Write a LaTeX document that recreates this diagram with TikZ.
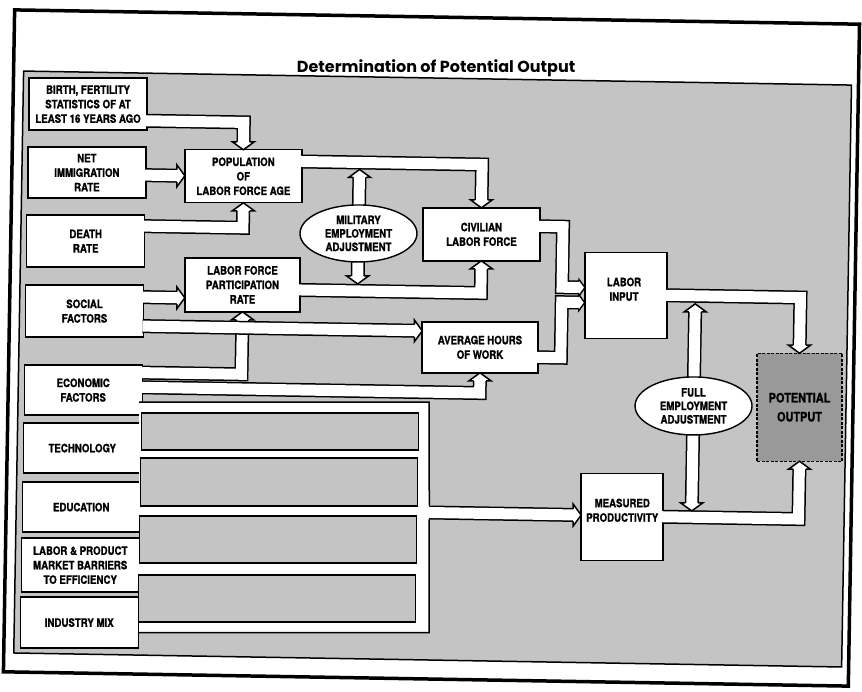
\documentclass[tikz,border=0pt]{standalone}
\usepackage{fontspec}
\newfontfamily\boxfont{TeX Gyre Heros}[FakeStretch=0.84, FakeBold=1.2]
\newfontfamily\titlefont{Poppins}
\usetikzlibrary{shapes.geometric}
\pgfdeclarelayer{bg}
\pgfdeclarelayer{pout}
\pgfdeclarelayer{boxes}
\pgfdeclarelayer{pin}
\pgfdeclarelayer{isl}
\pgfdeclarelayer{xout}
\pgfdeclarelayer{xin}
\pgfdeclarelayer{heads}
\pgfsetlayers{bg,pout,boxes,pin,isl,xout,xin,heads,main}
\tikzset{
  box/.style={draw, line width=1.4pt, fill=white, align=center, inner sep=0pt, outer sep=0pt,
    font=\boxfont\bfseries\fontsize{11.5}{14.5}\selectfont},
  txt/.style={align=center, inner sep=0pt, font=\boxfont\bfseries\fontsize{11.5}{14.5}\selectfont},
  ell/.style={ellipse, draw, line width=1.4pt, fill=white, align=center, inner sep=0pt, outer sep=0pt,
    font=\boxfont\bfseries\fontsize{11.5}{13.5}\selectfont},
  pipeo/.style={line width=14pt, draw=black, line join=miter, line cap=butt},
  pipei/.style={line width=11pt, draw=white, line join=miter, line cap=butt},
  wall/.style={line width=1.5pt, line join=miter, line cap=butt},
  isle/.style={draw, line width=1.4pt, fill=black!23, inner sep=0pt, outer sep=0pt},
  ahead/.pic={
    \fill[white] (0,0) -- (-8,11) -- (-8,-11) -- cycle;
    \draw[line width=1.5pt, line join=miter, line cap=butt] (-8,6.25) -- (-8,11) -- (0,0) -- (-8,-11) -- (-8,-6.25);
  },
  asmall/.pic={
    \fill[white] (0,0) -- (-6,8) -- (-6,-8) -- cycle;
    \draw[line width=1.4pt, line join=miter, line cap=butt] (-6,6.25) -- (-6,8) -- (0,0) -- (-6,-8) -- (-6,-6.25);
  },
}
\newcommand\mypipe[2][]{%
  \begin{pgfonlayer}{pout}\draw[pipeo,#1] #2;\end{pgfonlayer}%
  \begin{pgfonlayer}{pin}\draw[pipei,#1] #2;\end{pgfonlayer}}
\newcommand\mytoppipe[2][]{%
  \begin{pgfonlayer}{xout}\draw[pipeo,#1] #2;\end{pgfonlayer}%
  \begin{pgfonlayer}{xin}\draw[pipei,#1] #2;\end{pgfonlayer}}
\newcommand\headat[3][ahead]{\pic[rotate=#2] at #3 {#1};}
\begin{document}
\begin{tikzpicture}[x=1pt, y=-1pt]
\useasboundingbox (0,0) rectangle (862,692);
\begin{pgfonlayer}{bg}
  \fill[white] (0,0) rectangle (862,692);
\end{pgfonlayer}
\begin{scope}[rotate around={-0.97:(431,346)}]
\begin{pgfonlayer}{bg}
  \draw[line width=3.5pt] (9,17) rectangle (854,679);
  \filldraw[fill=black!23, line width=1.5pt] (19,78) rectangle (847,660);
\end{pgfonlayer}
\node[anchor=base, inner sep=0pt, font=\titlefont\bfseries\fontsize{16}{16}\selectfont] (title) at (431.5,72.5) {Determination of Potential Output};

\begin{pgfonlayer}{boxes}
  % left column
  \node[box, minimum width=118, minimum height=52] (birth)  at (84,110)   {BIRTH, FERTILITY\\STATISTICS OF AT\\LEAST 16 YEARS AGO};
  \node[box, minimum width=118, minimum height=51] (netimm) at (84,178.5) {NET\\IMMIGRATION\\RATE};
  \node[box, minimum width=118, minimum height=52] (death)  at (84,247)   {DEATH\\RATE};
  \node[box, minimum width=118, minimum height=52] (social) at (84,317)   {SOCIAL\\FACTORS};
  \node[box, minimum width=118, minimum height=50] (econ)   at (84,396)   {ECONOMIC\\FACTORS};
  \node[box, minimum width=118, minimum height=50] (tech)   at (84,454)   {TECHNOLOGY};
  \node[box, minimum width=118, minimum height=50] (edu)    at (84,513)   {EDUCATION};
  \node[box, minimum width=118, minimum height=54] (lpm)    at (84,571)   {LABOR \& PRODUCT\\MARKET BARRIERS\\TO EFFICIENCY};
  \node[box, minimum width=118, minimum height=51] (imix)   at (84,628.5) {INDUSTRY MIX};
  % middle
  \node[box, minimum width=117, minimum height=53] (pop)  at (240.5,179.5) {POPULATION\\OF\\LABOR FORCE AGE};
  \node[box, minimum width=115, minimum height=54] (lfpr) at (241.5,288)   {LABOR FORCE\\PARTICIPATION\\RATE};
  \node[box, minimum width=117, minimum height=53] (civ)  at (479.5,233.5) {CIVILIAN\\LABOR FORCE};
  \node[box, minimum width=116, minimum height=51] (avg)  at (480,346.5)   {AVERAGE HOURS\\OF WORK};
  \node[box, minimum width=82,  minimum height=86] (li)   at (625,292)     {};
  \node[box, minimum width=82,  minimum height=87] (mp)   at (625,513.5)   {};
  \node[box, minimum width=85,  minimum height=108, fill=black!40, dash pattern=on 3pt off 1.5pt,
        font=\boxfont\bfseries\fontsize{13}{19}\selectfont] (po) at (800.5,401) {POTENTIAL\\OUTPUT};
\end{pgfonlayer}
\node[txt] (litxt) at (623,286) {LABOR\\INPUT};
\node[txt] (mptxt) at (625,507) {MEASURED\\PRODUCTIVITY};

% collector of the lower inputs
\begin{pgfonlayer}{pin}
  \node[fill=white, inner sep=0pt, outer sep=0pt, minimum width=290, minimum height=230.4] (coll) at (287,519.8) {};
  \draw[wall] (coll.north west) -- (coll.north east) -- (coll.east |- 0,505.5);
  \draw[wall] (coll.east |- 0,519.5) -- (coll.south east) -- (coll.south west);
\end{pgfonlayer}
\begin{pgfonlayer}{isl}
  \node[isle, minimum width=277, minimum height=37] (i1) at (281.5,434.1) {};
  \node[isle, minimum width=277, minimum height=48] (i2) at (281.5,484.6) {};
  \node[isle, minimum width=277, minimum height=47] (i3) at (281.5,542.1) {};
  \node[isle, minimum width=277, minimum height=47] (i4) at (281.5,601.1) {};
\end{pgfonlayer}

\coordinate (j1) at (561,0);

% pipes
\mypipe[shorten <=-2pt, shorten >=5.5pt]{(birth.east |- 0,125.6) -| (pop.north)}
\mypipe[shorten <=-2pt, shorten >=5.5pt]{(netimm.east |- 0,180) -- (pop.west |- 0,180)}
\mypipe[shorten <=-2pt, shorten >=5.5pt]{(death.east |- 0,231) -| (pop.south)}
\mypipe[shorten <=-2pt, shorten >=5.5pt]{(pop.east |- 0,163.7) -| (civ.north)}
\mypipe[shorten <=-2pt, shorten >=5.5pt]{(lfpr.east |- 0,292.2) -| (civ.south)}
\mypipe[shorten <=-2pt, shorten >=4pt]{(civ.east |- 0,224.5) -| (j1 |- 0,285) -- (li.west |- 0,285)}
\mypipe[shorten <=-2pt, shorten >=4pt]{(avg.east |- 0,355.5) -| (j1 |- 0,300) -- (li.west |- 0,300)}
\mypipe[shorten <=-2pt, shorten >=5.5pt]{(social.east |- 0,302) -- (lfpr.west |- 0,302)}
\mytoppipe[shorten <=-0.8pt, shorten >=5.5pt]{(social.east |- 0,331) -- (avg.west |- 0,331)}
\mypipe[shorten <=-2pt, shorten >=5.5pt]{(econ.east |- 0,377.5) -| (lfpr.south)}
\mypipe[shorten <=-2pt, shorten >=5.5pt]{(econ.east |- 0,392.2) -| (avg.south)}
\mypipe[shorten <=-2pt, shorten >=5.5pt]{(coll.east |- 0,512.5) -- (mp.west |- 0,512.5)}
\mypipe[shorten <=-2pt, shorten >=5.5pt]{(li.east) -| (po.north)}
\mypipe[shorten <=-2pt, shorten >=5.5pt]{(mp.east) -| (po.south)}

\node[ell, minimum width=117, minimum height=57] (mil)  at (356.6,234.7) {MILITARY\\EMPLOYMENT\\ADJUSTMENT};
\node[ell, minimum width=117, minimum height=58] (full) at (694.5,401.5) {FULL\\EMPLOYMENT\\ADJUSTMENT};
\mypipe[shorten <=5.5pt, shorten >=5.5pt]{(mil.center |- 0,170.7) -- (mil.center |- 0,285.2)}
\mypipe[shorten <=5.5pt, shorten >=5.5pt]{(full.center |- 0,299.4) -- (full.center |- 0,506.5)}

\begin{pgfonlayer}{heads}
  \headat{-90}{(pop.north)}
  \headat{0}{(pop.west |- 0,180)}
  \headat{90}{(pop.south)}
  \headat{-90}{(civ.north)}
  \headat{90}{(civ.south)}
  \headat[asmall]{0}{(li.west |- 0,285)}
  \headat[asmall]{0}{(li.west |- 0,300)}
  \headat{0}{(lfpr.west |- 0,302)}
  \headat{0}{(avg.west |- 0,331)}
  \headat{90}{(lfpr.south)}
  \headat{90}{(avg.south)}
  \headat{0}{(mp.west |- 0,512.5)}
  \headat{-90}{(po.north)}
  \headat{90}{(po.south)}
  \headat{90}{(mil.center |- 0,170.7)}
  \headat{-90}{(mil.center |- 0,285.2)}
  \headat{90}{(full.center |- 0,299.4)}
  \headat{-90}{(full.center |- 0,506.5)}
\end{pgfonlayer}
\end{scope}
\end{tikzpicture}
\end{document}
